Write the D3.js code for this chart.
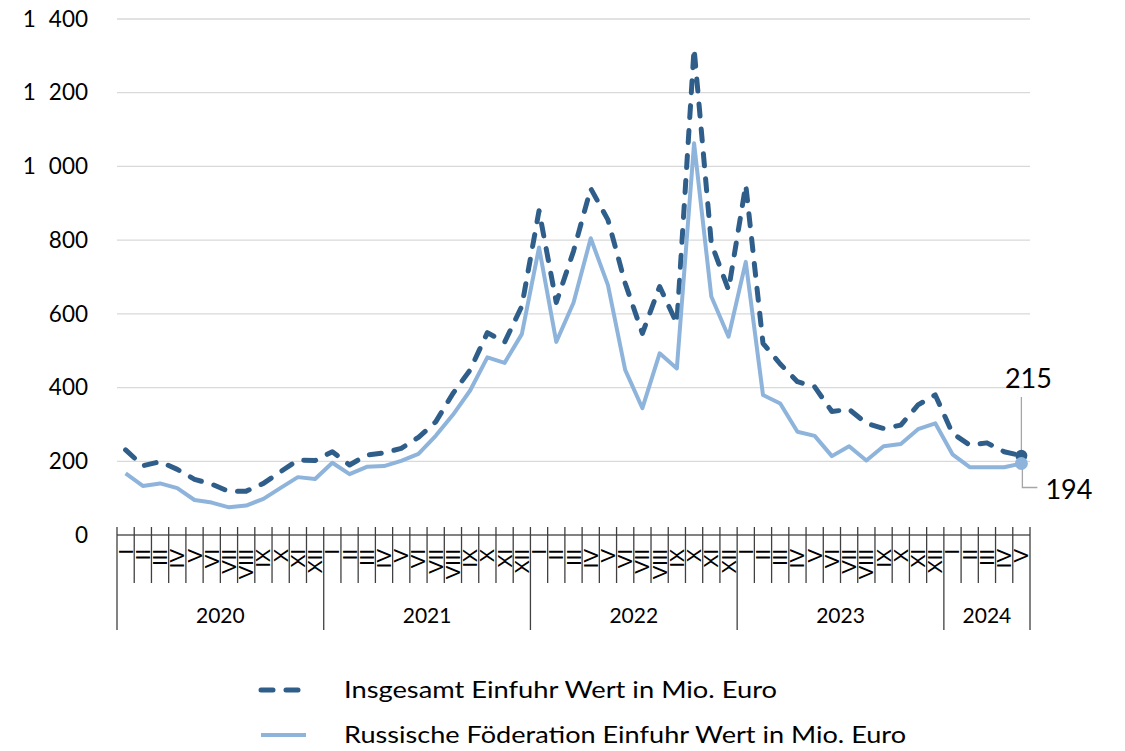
<!DOCTYPE html>
<html lang="de">
<head>
    <meta charset="UTF-8">
    <title>Einfuhr Wert in Mio. Euro</title>
    <script src="https://d3js.org/d3.v7.min.js"></script>
    <style>
        body { margin: 0; background: #fff; font-family: 'Lato', 'Carlito', sans-serif; }
        svg text { fill: #000; }
    </style>
</head>
<body>
    <svg id="viz" width="1125" height="751"></svg>

    <script>
        // monthly values Jan 2020 - May 2024
        const years = ["2020", "2021", "2022", "2023", "2024"];
        const monthsPerYear = [12, 12, 12, 12, 5];
        const monthNames = ["I", "II", "III", "IV", "V", "VI", "VII", "VIII", "IX", "X", "XI", "XII"];
        const yTicks = [0, 200, 400, 600, 800, 1000, 1200, 1400];

        const totalImports = [
            231, 188, 199, 178, 151, 138, 118, 119, 140, 172, 203, 202,
            226, 190, 217, 223, 235, 265, 307, 384, 448, 549, 523, 621,
            880, 631, 770, 940, 855, 683, 547, 674, 574, 1320, 791, 665,
            950, 520, 464, 416, 402, 335, 341, 303, 289, 298, 353, 380,
            276, 244, 250, 226, 215
        ];
        const russiaImports = [
            167, 133, 140, 127, 95, 88, 75, 80, 98, 128, 157, 152,
            196, 165, 185, 187, 201, 220, 269, 326, 392, 482, 467, 545,
            780, 524, 630, 805, 678, 448, 344, 493, 452, 1063, 647, 538,
            741, 380, 357, 280, 269, 214, 241, 202, 241, 247, 287, 303,
            219, 184, 184, 184, 194
        ];
        const seriesNames = [
            "Insgesamt Einfuhr Wert in Mio. Euro",
            "Russische Föderation Einfuhr Wert in Mio. Euro"
        ];

        const darkBlue = "#2E5E89";
        const lightBlue = "#8EB4DB";

        const svg = d3.select("#viz");
        const margin = { top: 19, right: 95, bottom: 216, left: 117 };
        const width = 1125, height = 751;

        // category list built from years/months
        const months = [];
        monthsPerYear.forEach((n, yi) => {
            for (let m = 0; m < n; m++) months.push({ year: years[yi], label: monthNames[m] });
        });

        const x = d3.scaleBand()
            .domain(d3.range(months.length))
            .range([margin.left, width - margin.right]);
        const y = d3.scaleLinear()
            .domain([0, 1400])
            .range([height - margin.bottom, margin.top]);

        const de = d3.formatLocale({ decimal: ",", thousands: "\u2007", grouping: [3], currency: ["", " €"] });
        const fmt = de.format(",d");

        // gridlines
        svg.append("g")
            .selectAll("line")
            .data(yTicks.filter(d => d > 0))
            .join("line")
            .attr("x1", margin.left)
            .attr("x2", width - margin.right)
            .attr("y1", d => y(d))
            .attr("y2", d => y(d))
            .attr("stroke", "#d9d9d9")
            .attr("stroke-width", 1.3);

        // y axis labels
        const yAxis = svg.append("g")
            .attr("transform", `translate(${margin.left},0)`)
            .call(d3.axisLeft(y).tickValues(yTicks).tickFormat(fmt).tickSize(0).tickPadding(29));
        yAxis.select(".domain").remove();
        yAxis.selectAll("text")
            .attr("font-family", "Lato, sans-serif")
            .attr("font-size", 22.5)
            .attr("fill", "#000");

        // category axis
        const axisY = y(0);
        const xAxis = svg.append("g");
        xAxis.append("line")
            .attr("x1", margin.left)
            .attr("x2", width - margin.right)
            .attr("y1", axisY)
            .attr("y2", axisY)
            .attr("stroke", "#595959")
            .attr("stroke-width", 1.3);

        const yearStarts = [0];
        monthsPerYear.forEach((n, i) => yearStarts.push(yearStarts[i] + n));
        const boundaries = d3.range(months.length + 1);
        const bx = i => i < months.length ? x(i) : x(months.length - 1) + x.bandwidth();

        xAxis.selectAll(".tick-line")
            .data(boundaries)
            .join("line")
            .attr("class", "tick-line")
            .attr("x1", d => bx(d))
            .attr("x2", d => bx(d))
            .attr("y1", axisY - 8)
            .attr("y2", d => yearStarts.includes(d) ? axisY + 95 : axisY + 48)
            .attr("stroke", "#404040")
            .attr("stroke-width", 1.3);

        xAxis.selectAll(".month-label")
            .data(months)
            .join("text")
            .attr("class", "month-label")
            .attr("transform", (d, i) => `translate(${x(i) + x.bandwidth() / 2 + 7},${axisY + 14}) rotate(-90)`)
            .attr("text-anchor", "end")
            .attr("font-size", 20)
            .text(d => d.label);

        xAxis.selectAll(".year-label")
            .data(years)
            .join("text")
            .attr("class", "year-label")
            .attr("x", (d, i) => (bx(yearStarts[i]) + bx(yearStarts[i + 1])) / 2)
            .attr("y", axisY + 88)
            .attr("text-anchor", "middle")
            .attr("font-size", 21)
            .text(d => d);

        // lines
        const line = d3.line()
            .x((d, i) => x(i) + x.bandwidth() / 2)
            .y(d => y(d));

        svg.append("path")
            .datum(totalImports)
            .attr("d", line)
            .attr("fill", "none")
            .attr("stroke", darkBlue)
            .attr("stroke-width", 5)
            .attr("stroke-linecap", "round")
            .attr("stroke-linejoin", "round")
            .attr("stroke-dasharray", "12,13");

        svg.append("path")
            .datum(russiaImports)
            .attr("d", line)
            .attr("fill", "none")
            .attr("stroke", lightBlue)
            .attr("stroke-width", 4)
            .attr("stroke-linejoin", "round");

        // end markers + labels
        const last = months.length - 1;
        const lx = x(last) + x.bandwidth() / 2;
        const tY = y(totalImports[last]);
        const rY = y(russiaImports[last]);

        svg.append("line")
            .attr("x1", lx).attr("x2", lx)
            .attr("y1", 397).attr("y2", tY - 4)
            .attr("stroke", "#a6a6a6").attr("stroke-width", 1.3);
        svg.append("polyline")
            .attr("points", `${lx + 1},${rY + 4} ${lx + 1},${rY + 24} ${lx + 16},${rY + 24}`)
            .attr("fill", "none")
            .attr("stroke", "#a6a6a6").attr("stroke-width", 1.3);

        svg.append("circle")
            .attr("cx", lx).attr("cy", tY).attr("r", 6)
            .attr("fill", darkBlue);
        svg.append("circle")
            .attr("cx", lx).attr("cy", rY).attr("r", 6.5)
            .attr("fill", lightBlue);

        svg.append("text")
            .attr("x", lx + 7).attr("y", 388)
            .attr("text-anchor", "middle")
            .attr("font-size", 27)
            .text(totalImports[last]);
        svg.append("text")
            .attr("x", lx + 24).attr("y", rY + 36)
            .attr("font-size", 27)
            .text(russiaImports[last]);

        // legend
        const legend = svg.append("g");
        const legendItems = [
            { name: seriesNames[0], color: darkBlue, dash: "12,13", w: 5, y: 690, len: 433 },
            { name: seriesNames[1], color: lightBlue, dash: null, w: 4, y: 735, len: 562 }
        ];
        legendItems.forEach(d => {
            legend.append("line")
                .attr("x1", 261).attr("x2", 306)
                .attr("y1", d.y).attr("y2", d.y)
                .attr("stroke", d.color)
                .attr("stroke-width", d.w)
                .attr("stroke-linecap", d.dash ? "round" : "butt")
                .attr("stroke-dasharray", d.dash);
            legend.append("text")
                .attr("x", 344).attr("y", d.y)
                .attr("dy", "0.35em")
                .attr("font-size", 24)
                .attr("textLength", d.len)
                .attr("lengthAdjust", "spacingAndGlyphs")
                .text(d.name);
        });
    </script>
</body>
</html>
